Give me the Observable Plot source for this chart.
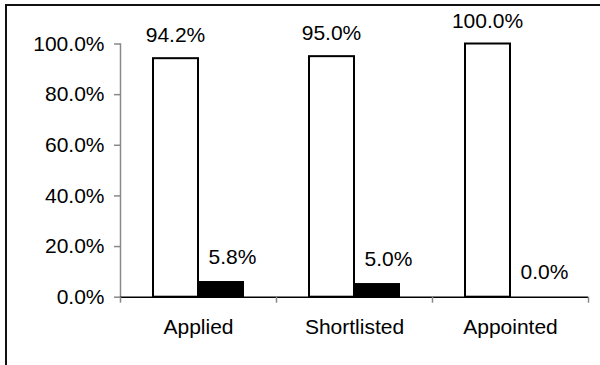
<!DOCTYPE html>
<html>
<head>
<meta charset="utf-8">
<script src="https://cdn.jsdelivr.net/npm/d3@7"></script>
<script src="https://cdn.jsdelivr.net/npm/@observablehq/plot@0.6"></script>
<style>
  html, body { margin: 0; padding: 0; background: #fff; }
  #wrap { position: relative; width: 600px; height: 365px; overflow: hidden; }
  #border { position: absolute; left: 5px; top: 4px; width: 700px; height: 500px;
            border-top: 2px solid #111; border-left: 2px solid #111; }
  #chart { position: absolute; left: 0; top: 0; }
</style>
</head>
<body>
<div id="wrap"><div id="border"></div><div id="chart"></div></div>
<script>
const categories = ["Applied", "Shortlisted", "Appointed"];
const whiteValues = [0.942, 0.950, 1.000];
const blackValues = [0.058, 0.050, 0.000];
const yTicks = [0, 0.2, 0.4, 0.6, 0.8, 1.0];

const whiteData = categories.map((c, i) => ({category: c, value: whiteValues[i]}));
const blackData = categories.map((c, i) => ({category: c, value: blackValues[i]}));
const fmt = d3.format(".1%");
const font = "'Liberation Sans', Arial, sans-serif";
const fs = 21;

const plot = Plot.plot({
  width: 600,
  height: 365,
  marginLeft: 120,
  marginRight: 12,
  marginTop: 43.5,
  marginBottom: 68.3,
  style: {fontFamily: font, fontSize: fs + "px", color: "#000", background: "transparent"},
  x: {domain: categories, padding: 0, label: null},
  y: {domain: [0, 1], label: null},
  marks: [
    Plot.frame({anchor: "left", stroke: "#888", strokeWidth: 1.5}),
    Plot.axisY({ticks: yTicks, tickFormat: fmt, tickSize: 6, tickPadding: 10, stroke: "#888", strokeWidth: 1.5, fontSize: fs, label: null}),
    Plot.axisX({tickSize: 0, tickPadding: 22, fontSize: fs, label: null}),
    Plot.barY(whiteData, {x: "category", y: "value", fill: "#fff", stroke: "#000", strokeWidth: 2, insetLeft: 33, insetRight: 78}),
    Plot.barY(blackData, {x: "category", y: "value", fill: "#000", stroke: "#000", strokeWidth: 2, insetLeft: 78, insetRight: 33}),
    Plot.ruleY([0], {stroke: "#000", strokeWidth: 1.5}),
    Plot.ruleX(categories, {x: d => d, y1: 0, y2: 0, insetBottom: -6, dx: -78, stroke: "#888", strokeWidth: 1.5}),
    Plot.ruleX([categories[categories.length - 1]], {x: d => d, y1: 0, y2: 0, insetBottom: -6, dx: 78, stroke: "#888", strokeWidth: 1.5}),
    Plot.text(whiteData, {x: "category", y: "value", text: d => fmt(d.value), dx: -23, dy: -23, fontSize: fs, fill: "#000"}),
    Plot.text(blackData, {x: "category", y: "value", text: d => fmt(d.value), dx: 10, dy: -25, textAnchor: "start", fontSize: fs, fill: "#000"})
  ]
});
document.getElementById("chart").appendChild(plot);
</script>
</body>
</html>
